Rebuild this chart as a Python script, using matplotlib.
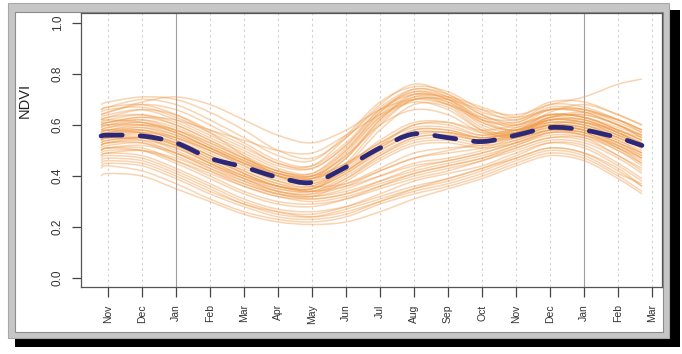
import matplotlib
matplotlib.use("Agg")
import matplotlib.pyplot as plt
from matplotlib.path import Path
from matplotlib.patches import PathPatch, Rectangle
import numpy as np

plt.rcParams['font.family'] = ['Liberation Sans', 'DejaVu Sans']

# ---------------- data ----------------
month_labels = ["Nov", "Dec", "Jan", "Feb", "Mar", "Apr", "May", "Jun", "Jul",
                "Aug", "Sep", "Oct", "Nov", "Dec", "Jan", "Feb", "Mar"]
month_pos = list(range(len(month_labels)))
year_starts = [2, 14]           # Jan positions (solid grid lines)
y_ticks = [0.0, 0.2, 0.4, 0.6, 0.8, 1.0]

# sample times (month index) at which each profile is read
t = [-0.2, 0, 1, 2, 3, 4, 5, 6, 7, 8, 9, 10, 11, 12, 13, 14, 15, 15.7]

mean_ndvi = [0.557, 0.56, 0.557, 0.53, 0.47, 0.435, 0.395, 0.375, 0.435, 0.51,
             0.565, 0.55, 0.535, 0.56, 0.59, 0.58, 0.55, 0.52]

profiles = [
    # high summer hump
    [0.62,0.63,0.66,0.64,0.58,0.52,0.45,0.44,0.55,0.68,0.76,0.72,0.64,0.60,0.66,0.66,0.62,0.58],
    [0.60,0.61,0.63,0.60,0.54,0.47,0.41,0.40,0.50,0.65,0.74,0.71,0.62,0.58,0.63,0.64,0.60,0.56],
    [0.66,0.67,0.70,0.68,0.62,0.55,0.48,0.46,0.56,0.69,0.75,0.73,0.66,0.62,0.68,0.67,0.62,0.57],
    [0.57,0.58,0.60,0.58,0.52,0.46,0.40,0.38,0.47,0.62,0.72,0.70,0.62,0.60,0.64,0.63,0.58,0.54],
    [0.55,0.56,0.58,0.55,0.50,0.44,0.38,0.36,0.45,0.60,0.70,0.69,0.60,0.57,0.62,0.62,0.57,0.53],
    [0.63,0.64,0.66,0.62,0.56,0.50,0.44,0.43,0.52,0.66,0.73,0.70,0.61,0.58,0.65,0.68,0.64,0.60],
    [0.52,0.53,0.55,0.53,0.48,0.42,0.37,0.35,0.44,0.58,0.68,0.67,0.58,0.55,0.60,0.61,0.56,0.52],
    [0.68,0.69,0.71,0.70,0.65,0.58,0.50,0.47,0.55,0.67,0.74,0.72,0.65,0.63,0.69,0.69,0.64,0.60],
    [0.58,0.59,0.61,0.57,0.51,0.45,0.40,0.39,0.49,0.63,0.71,0.68,0.59,0.56,0.61,0.60,0.55,0.51],
    [0.61,0.62,0.64,0.61,0.55,0.49,0.43,0.41,0.50,0.63,0.69,0.66,0.58,0.57,0.63,0.65,0.62,0.58],
    [0.54,0.55,0.57,0.55,0.50,0.45,0.41,0.40,0.48,0.60,0.66,0.64,0.57,0.56,0.62,0.61,0.57,0.52],
    [0.64,0.65,0.68,0.66,0.60,0.53,0.46,0.44,0.53,0.66,0.72,0.69,0.62,0.61,0.66,0.65,0.60,0.55],
    [0.59,0.60,0.62,0.59,0.53,0.47,0.42,0.41,0.51,0.64,0.72,0.70,0.63,0.59,0.64,0.63,0.58,0.54],
    [0.65,0.66,0.67,0.63,0.57,0.51,0.45,0.43,0.52,0.65,0.73,0.71,0.64,0.61,0.67,0.66,0.61,0.57],
    [0.56,0.57,0.59,0.56,0.51,0.46,0.41,0.39,0.47,0.61,0.70,0.68,0.61,0.58,0.63,0.64,0.60,0.55],
    [0.62,0.63,0.64,0.60,0.54,0.48,0.42,0.40,0.48,0.62,0.71,0.71,0.67,0.63,0.66,0.65,0.60,0.56],
    # medium
    [0.56,0.57,0.58,0.54,0.48,0.42,0.37,0.36,0.42,0.50,0.56,0.57,0.55,0.57,0.61,0.60,0.56,0.52],
    [0.53,0.54,0.55,0.52,0.46,0.40,0.35,0.34,0.40,0.48,0.54,0.55,0.53,0.55,0.59,0.58,0.53,0.49],
    [0.60,0.60,0.60,0.56,0.50,0.44,0.39,0.37,0.42,0.51,0.58,0.58,0.55,0.58,0.63,0.62,0.57,0.53],
    [0.50,0.51,0.52,0.49,0.44,0.39,0.35,0.34,0.39,0.47,0.53,0.54,0.52,0.54,0.58,0.56,0.51,0.47],
    [0.58,0.59,0.60,0.57,0.51,0.45,0.40,0.38,0.43,0.52,0.60,0.60,0.56,0.58,0.62,0.61,0.58,0.55],
    [0.55,0.56,0.57,0.53,0.47,0.41,0.36,0.35,0.41,0.49,0.55,0.56,0.54,0.56,0.60,0.59,0.55,0.51],
    [0.62,0.62,0.61,0.57,0.51,0.45,0.40,0.39,0.45,0.53,0.59,0.59,0.56,0.59,0.64,0.63,0.59,0.56],
    [0.48,0.49,0.50,0.47,0.42,0.37,0.33,0.32,0.38,0.46,0.52,0.53,0.51,0.53,0.57,0.56,0.52,0.48],
    [0.57,0.58,0.59,0.55,0.49,0.43,0.38,0.37,0.44,0.54,0.61,0.61,0.57,0.58,0.61,0.60,0.55,0.51],
    [0.52,0.53,0.54,0.51,0.45,0.40,0.36,0.35,0.41,0.50,0.57,0.57,0.54,0.56,0.60,0.59,0.54,0.50],
    [0.61,0.61,0.62,0.58,0.52,0.46,0.41,0.39,0.44,0.52,0.57,0.57,0.55,0.57,0.62,0.61,0.56,0.52],
    [0.54,0.55,0.56,0.52,0.46,0.40,0.36,0.35,0.42,0.51,0.58,0.58,0.55,0.57,0.60,0.58,0.53,0.49],
    [0.59,0.60,0.61,0.58,0.53,0.47,0.42,0.40,0.45,0.53,0.60,0.61,0.58,0.60,0.64,0.63,0.58,0.54],
    [0.51,0.52,0.53,0.49,0.43,0.38,0.34,0.33,0.39,0.48,0.55,0.56,0.54,0.55,0.58,0.57,0.52,0.47],
    # low summer
    [0.52,0.53,0.53,0.48,0.42,0.36,0.32,0.31,0.33,0.37,0.41,0.44,0.47,0.52,0.56,0.55,0.48,0.43],
    [0.48,0.49,0.48,0.43,0.37,0.31,0.27,0.26,0.28,0.32,0.36,0.39,0.43,0.48,0.53,0.52,0.45,0.39],
    [0.55,0.55,0.54,0.49,0.43,0.37,0.33,0.32,0.35,0.40,0.45,0.47,0.50,0.54,0.58,0.57,0.51,0.46],
    [0.45,0.46,0.45,0.40,0.34,0.29,0.25,0.24,0.27,0.31,0.35,0.38,0.42,0.47,0.51,0.49,0.42,0.36],
    [0.50,0.51,0.51,0.46,0.40,0.34,0.30,0.29,0.31,0.35,0.39,0.42,0.46,0.50,0.54,0.53,0.47,0.41],
    [0.58,0.58,0.57,0.52,0.45,0.39,0.34,0.33,0.36,0.42,0.47,0.49,0.51,0.55,0.59,0.58,0.52,0.47],
    [0.43,0.44,0.42,0.37,0.31,0.26,0.23,0.22,0.24,0.29,0.33,0.36,0.40,0.45,0.49,0.47,0.40,0.34],
    [0.53,0.54,0.55,0.51,0.45,0.39,0.34,0.32,0.34,0.38,0.42,0.45,0.48,0.52,0.57,0.57,0.51,0.45],
    [0.47,0.48,0.47,0.42,0.36,0.30,0.26,0.24,0.26,0.30,0.34,0.37,0.41,0.46,0.50,0.48,0.41,0.37],
    [0.56,0.57,0.57,0.53,0.47,0.41,0.36,0.34,0.36,0.40,0.44,0.46,0.49,0.53,0.58,0.58,0.53,0.48],
    [0.40,0.41,0.40,0.35,0.30,0.25,0.22,0.21,0.22,0.26,0.31,0.35,0.39,0.44,0.48,0.46,0.39,0.33],
    [0.66,0.67,0.68,0.64,0.57,0.48,0.40,0.36,0.37,0.42,0.47,0.50,0.53,0.57,0.62,0.62,0.57,0.52],
    [0.50,0.51,0.50,0.45,0.39,0.33,0.29,0.28,0.31,0.36,0.41,0.44,0.47,0.51,0.55,0.54,0.48,0.42],
    [0.54,0.55,0.55,0.50,0.44,0.38,0.33,0.31,0.33,0.38,0.43,0.46,0.49,0.53,0.57,0.56,0.50,0.45],
    [0.46,0.47,0.46,0.41,0.35,0.29,0.26,0.25,0.28,0.33,0.38,0.41,0.44,0.49,0.53,0.51,0.44,0.38],
    [0.57,0.58,0.58,0.54,0.48,0.41,0.36,0.34,0.37,0.43,0.49,0.51,0.52,0.56,0.60,0.59,0.54,0.49],
    [0.44,0.45,0.44,0.39,0.33,0.28,0.24,0.23,0.25,0.30,0.35,0.39,0.43,0.47,0.51,0.49,0.43,0.36],
    [0.49,0.50,0.50,0.46,0.41,0.36,0.32,0.30,0.32,0.36,0.40,0.43,0.46,0.51,0.55,0.55,0.50,0.44],
    # outliers
    [0.60,0.61,0.63,0.62,0.58,0.54,0.50,0.49,0.56,0.64,0.70,0.70,0.66,0.64,0.68,0.71,0.76,0.78],
    [0.64,0.65,0.69,0.71,0.68,0.62,0.56,0.53,0.58,0.66,0.70,0.68,0.63,0.62,0.66,0.66,0.62,0.58],
]

# ---------------- helpers ----------------
W, H = 682, 354


def smooth_path(xs, ys):
    """Catmull-Rom style Bezier path through the given points."""
    p = np.column_stack([xs, ys]).astype(float)
    n = len(p)
    verts = [p[0]]
    codes = [Path.MOVETO]
    for i in range(n - 1):
        p0 = p[i - 1] if i > 0 else p[i]
        p1 = p[i]
        p2 = p[i + 1]
        p3 = p[i + 2] if i + 2 < n else p[i + 1]
        c1 = p1 + (p2 - p0) / 6.0
        c2 = p2 - (p3 - p1) / 6.0
        verts += [c1, c2, p2]
        codes += [Path.CURVE4] * 3
    return Path(verts, codes)


def fx(x):
    return x / W


def fy(y):
    return 1 - y / H


# ---------------- figure ----------------
fig = plt.figure(figsize=(W / 100, H / 100), dpi=100)
fig.patch.set_facecolor('white')

# black drop shadow
fig.patches.append(Rectangle((fx(15), fy(347)), fx(680) - fx(15), fy(338) - fy(347),
                             transform=fig.transFigure, facecolor='black',
                             edgecolor='none', zorder=-3))
fig.patches.append(Rectangle((fx(669), fy(347)), fx(680) - fx(669), fy(10) - fy(347),
                             transform=fig.transFigure, facecolor='black',
                             edgecolor='none', zorder=-3))
# gray frame
fig.patches.append(Rectangle((fx(8), fy(338)), fx(669) - fx(8), fy(3) - fy(338),
                             transform=fig.transFigure, facecolor='#c6c6c6',
                             edgecolor='#a8a8a8', linewidth=0.8, zorder=-2))
# white panel
fig.patches.append(Rectangle((fx(15), fy(332)), fx(663) - fx(15), fy(12) - fy(332),
                             transform=fig.transFigure, facecolor='white',
                             edgecolor='#8c8c8c', linewidth=0.8, zorder=-1))

ax = fig.add_axes([fx(81), fy(287), fx(662) - fx(81), fy(13) - fy(287)])
ax.set_facecolor('white')
ax.set_xlim(-0.79, 16.29)
ax.set_ylim(-0.035, 1.039)

# grid lines
for m in month_pos:
    if m in year_starts:
        ax.axvline(m, color='#a0a0a0', linewidth=0.8, zorder=1)
    else:
        ax.axvline(m, color='#cfcfcf', linewidth=0.8, linestyle=(0, (2, 3)), zorder=1)

# individual profiles
for prof in profiles:
    ax.add_patch(PathPatch(smooth_path(t, prof), facecolor='none',
                           edgecolor='#f09a48', alpha=0.42, linewidth=1.1, zorder=2))

# mean profile
ax.add_patch(PathPatch(smooth_path(t, mean_ndvi), facecolor='none',
                       edgecolor='#2b2879', linewidth=3.4, linestyle=(0, (4.5, 3.8)),
                       capstyle='round', zorder=3))

# axes styling
for s in ax.spines.values():
    s.set_color('#555555')
    s.set_linewidth(0.9)

ax.set_yticks(y_ticks)
ax.set_yticklabels([f"{v:.1f}" for v in y_ticks], rotation=90, va='center',
                   fontsize=8.5, color='#333333')
ax.set_xticks(month_pos)
ax.set_xticklabels(month_labels, rotation=90, fontsize=7.5, color='#333333')
ax.tick_params(axis='y', direction='out', length=6.5, width=0.9, color='#444444', pad=6)
ax.tick_params(axis='x', direction='out', length=7.5, width=0.9, color='#444444', pad=5)

ax.set_ylabel('NDVI', fontsize=10.5, color='#222222')
ax.yaxis.set_label_coords(-0.085, 0.68)

fig.savefig('out.png', dpi=100, facecolor='white')
